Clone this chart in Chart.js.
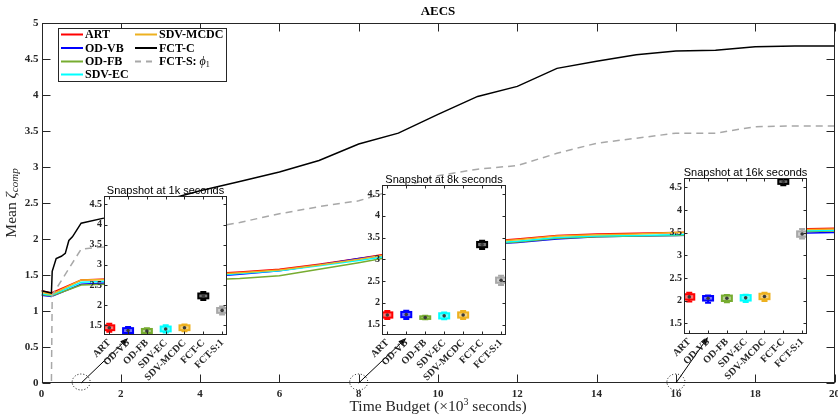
<!DOCTYPE html>
<html><head><meta charset="utf-8">
<script src="https://cdn.jsdelivr.net/npm/chart.js@4.4.1/dist/chart.umd.min.js"></script>
<style>
html,body{margin:0;padding:0;background:#fff;}
#wrap{position:relative;width:838px;height:418px;overflow:hidden;background:#fff;}
canvas{position:absolute;}
</style></head><body>
<div id="wrap">
<canvas id="main" width="838" height="418" style="left:0;top:0"></canvas>
<canvas id="ins0"></canvas><canvas id="ins1"></canvas><canvas id="ins2"></canvas>
</div>
<script>
// ---------------- DATA ----------------
const methods = ['ART', 'OD-VB', 'OD-FB', 'SDV-EC', 'SDV-MCDC', 'FCT-C', 'FCT-S'];
const boxLabels = ['ART', 'OD-VB', 'OD-FB', 'SDV-EC', 'SDV-MCDC', 'FCT-C', 'FCT-S:1'];

// time budget (x10^3 s) for the five baseline series
const times = [0, 0.25, 1, 2, 3, 4, 5, 6, 7, 8, 9, 10, 11, 12, 13, 14, 15, 16, 17, 18, 19, 20];
const art     = [1.28, 1.25, 1.43, 1.45, 1.48, 1.51, 1.54, 1.58, 1.65, 1.73, 1.82, 1.90, 1.96, 2.00, 2.05, 2.07, 2.08, 2.09, 2.10, 2.12, 2.14, 2.15];
const odVb    = [1.22, 1.20, 1.37, 1.40, 1.43, 1.47, 1.51, 1.56, 1.64, 1.73, 1.80, 1.87, 1.92, 1.95, 2.00, 2.03, 2.04, 2.05, 2.06, 2.07, 2.08, 2.09];
const odFb    = [1.23, 1.21, 1.36, 1.38, 1.40, 1.43, 1.45, 1.49, 1.58, 1.67, 1.77, 1.86, 1.92, 1.96, 2.01, 2.03, 2.04, 2.05, 2.07, 2.08, 2.10, 2.11];
const sdvEc   = [1.24, 1.22, 1.40, 1.42, 1.45, 1.48, 1.52, 1.56, 1.63, 1.70, 1.78, 1.87, 1.93, 1.97, 2.02, 2.04, 2.05, 2.06, 2.08, 2.09, 2.11, 2.12];
const sdvMcdc = [1.26, 1.23, 1.43, 1.44, 1.47, 1.50, 1.53, 1.57, 1.64, 1.72, 1.81, 1.89, 1.95, 1.99, 2.04, 2.06, 2.07, 2.09, 2.10, 2.11, 2.13, 2.14];

const fctCTimes = [0, 0.25, 0.27, 0.37, 0.5, 0.6, 0.69, 0.78, 1, 1.57, 2, 3, 4, 5, 6, 7, 8, 9, 10, 11, 12, 13, 14, 15, 16, 17, 18, 19, 20];
const fctC      = [1.28, 1.25, 1.55, 1.73, 1.76, 1.80, 1.98, 2.03, 2.22, 2.29, 2.36, 2.52, 2.67, 2.80, 2.93, 3.09, 3.32, 3.47, 3.73, 3.98, 4.12, 4.37, 4.47, 4.56, 4.61, 4.62, 4.67, 4.68, 4.68];

const fctSTimes = [0, 0.25, 0.27, 1, 1.57, 2, 3, 4, 5, 6, 7, 8, 9, 10, 11, 12, 13, 14, 15, 16, 17, 18, 19, 20];
const fctS      = [0, 0, 1.22, 1.86, 1.89, 1.95, 2.05, 2.13, 2.23, 2.35, 2.45, 2.53, 2.70, 2.88, 2.97, 3.02, 3.19, 3.33, 3.40, 3.47, 3.47, 3.56, 3.57, 3.57];

const xTickValues = [0, 2, 4, 6, 8, 10, 12, 14, 16, 18, 20];
const yTickValues = [0, 0.5, 1, 1.5, 2, 2.5, 3, 3.5, 4, 4.5, 5];
const insetYTicks = [1.5, 2, 2.5, 3, 3.5, 4, 4.5];

// snapshots (box plots)
const snapshotTimes = [1, 8, 16];
const snapshotTitles = ['Snapshot at 1k seconds', 'Snapshot at 8k seconds', 'Snapshot at 16k seconds'];
const med1k = [1.44, 1.37, 1.36, 1.41, 1.44, 2.23, 1.87];
const q1_1k = [1.38, 1.31, 1.31, 1.35, 1.38, 2.17, 1.81];
const q3_1k = [1.50, 1.43, 1.41, 1.47, 1.50, 2.29, 1.93];
const lo_1k = [1.34, 1.28, 1.29, 1.32, 1.35, 2.13, 1.77];
const hi_1k = [1.54, 1.46, 1.43, 1.50, 1.52, 2.33, 1.97];

const med8k = [1.72, 1.73, 1.66, 1.70, 1.72, 3.34, 2.52];
const q1_8k = [1.66, 1.67, 1.63, 1.64, 1.66, 3.28, 2.46];
const q3_8k = [1.78, 1.79, 1.69, 1.76, 1.78, 3.40, 2.58];
const lo_8k = [1.63, 1.63, 1.62, 1.62, 1.63, 3.24, 2.41];
const hi_8k = [1.81, 1.82, 1.70, 1.78, 1.81, 3.43, 2.62];

const med16k = [2.08, 2.05, 2.05, 2.06, 2.09, 4.63, 3.47];
const q1_16k = [2.02, 2.00, 1.99, 2.00, 2.03, 4.58, 3.41];
const q3_16k = [2.14, 2.10, 2.11, 2.12, 2.15, 4.68, 3.53];
const lo_16k = [1.98, 1.95, 1.96, 1.97, 1.99, 4.55, 3.37];
const hi_16k = [2.17, 2.11, 2.12, 2.13, 2.17, 4.70, 3.58];

// ---------------- STYLE / LAYOUT ----------------
const colors = ['#FF0000', '#0000FF', '#77AC30', '#00FFFF', '#EDB120', '#000000', '#A8A8A8'];
const AX = '#262626';
const SERIF = '"Liberation Serif", "DejaVu Serif", serif';
const SANS = '"Liberation Sans", Arial, sans-serif';
const insetBoxes = [
  {L: 104, R: 227, T: 196, B: 335},
  {L: 382, R: 506, T: 185, B: 335},
  {L: 684, R: 807, T: 178, B: 334}
];
const insetX = {min: 0.72, max: 7.26};
const insetY = {min: 1.26, max: 4.71};

// ---------------- MAIN CHART ----------------
const baseSeries = [art, odVb, odFb, sdvEc, sdvMcdc];
const datasets = baseSeries.map((vals, i) => ({
  label: methods[i],
  data: vals.map((y, k) => ({x: times[k], y})),
  borderColor: colors[i], borderWidth: 1.5, pointRadius: 0, tension: 0, fill: false, order: 10 - i
}));
datasets.push({label: methods[5], data: fctC.map((y, k) => ({x: fctCTimes[k], y})),
  borderColor: colors[5], borderWidth: 1.5, pointRadius: 0, tension: 0, fill: false, order: 4});
datasets.push({label: methods[6], data: fctS.map((y, k) => ({x: fctSTimes[k], y})),
  borderColor: colors[6], borderDash: [7, 5], borderWidth: 1.5, pointRadius: 0, tension: 0, fill: false, order: 3});

function zeroPad(s) { s.paddingLeft = 0; s.paddingRight = 0; s.paddingTop = 0; s.paddingBottom = 0; }

function drawParts(ctx, parts, x, y, align) {
  let w = 0;
  parts.forEach(p => { ctx.font = p.font; w += ctx.measureText(p.t).width; });
  let cx = align === 'center' ? x - w / 2 : x;
  parts.forEach(p => { ctx.font = p.font; ctx.fillText(p.t, cx, y + (p.dy || 0)); cx += ctx.measureText(p.t).width; });
}

const mainDecor = {
  id: 'mainDecor',
  afterDatasetsDraw(chart) {
    const ctx = chart.ctx, a = chart.chartArea, xs = chart.scales.x, ys = chart.scales.y;
    ctx.save();
    const L = Math.round(a.left) + 0.5, R = Math.round(a.right) - 0.5, T = Math.round(a.top) + 0.5, B = Math.round(a.bottom) - 0.5;
    ctx.strokeStyle = AX; ctx.lineWidth = 1;
    ctx.beginPath();
    xTickValues.forEach(v => { const p = Math.round(xs.getPixelForValue(v)) + 0.5; ctx.moveTo(p, B); ctx.lineTo(p, B - 8); ctx.moveTo(p, T); ctx.lineTo(p, T + 8); });
    yTickValues.forEach(v => { const p = Math.round(ys.getPixelForValue(v)) + 0.5; ctx.moveTo(L, p); ctx.lineTo(L + 8, p); ctx.moveTo(R, p); ctx.lineTo(R - 8, p); });
    ctx.stroke();
    ctx.strokeRect(L, T, R - L, B - T);

    // dotted circles and arrows to the insets
    snapshotTimes.forEach((t, i) => {
      const cx = xs.getPixelForValue(t), cy = ys.getPixelForValue(0);
      ctx.save();
      ctx.setLineDash([1, 2]); ctx.strokeStyle = '#000'; ctx.lineWidth = 1;
      ctx.beginPath(); ctx.ellipse(cx, cy - 1, 9, 8, 0, 0, Math.PI * 2); ctx.stroke();
      ctx.restore();
      const b = insetBoxes[i];
      const tx = b.L + (2 - insetX.min) / (insetX.max - insetX.min) * (b.R - b.L), ty = b.B + 3;
      const ang = Math.atan2(ty - cy, tx - cx);
      ctx.strokeStyle = '#000'; ctx.lineWidth = 1;
      ctx.beginPath(); ctx.moveTo(cx, cy); ctx.lineTo(tx - 6 * Math.cos(ang), ty - 6 * Math.sin(ang)); ctx.stroke();
      ctx.fillStyle = '#000';
      ctx.beginPath();
      ctx.moveTo(tx, ty);
      ctx.lineTo(tx - 8 * Math.cos(ang) + 3 * Math.sin(ang), ty - 8 * Math.sin(ang) - 3 * Math.cos(ang));
      ctx.lineTo(tx - 8 * Math.cos(ang) - 3 * Math.sin(ang), ty - 8 * Math.sin(ang) + 3 * Math.cos(ang));
      ctx.closePath(); ctx.fill();
    });

    // title
    ctx.fillStyle = '#000'; ctx.textBaseline = 'middle';
    ctx.font = 'bold 13px ' + SERIF;
    ctx.textAlign = 'center'; ctx.fillText('AECS', (a.left + a.right) / 2, 12);
    ctx.textAlign = 'left';
    // x label
    ctx.fillStyle = AX;
    drawParts(ctx, [
      {t: 'Time Budget (×10', font: '15.5px ' + SERIF},
      {t: '3', font: '10px ' + SERIF, dy: -4.5},
      {t: ' seconds)', font: '15.5px ' + SERIF}
    ], (a.left + a.right) / 2, 407, 'center');
    // y label
    ctx.save();
    ctx.translate(12, (a.top + a.bottom) / 2);
    ctx.rotate(-Math.PI / 2);
    drawParts(ctx, [
      {t: 'Mean ', font: '15.5px ' + SERIF},
      {t: 'ζ', font: 'italic 15.5px ' + SERIF},
      {t: 'comp', font: 'italic 11px ' + SERIF, dy: 3.5}
    ], 0, 0, 'center');
    ctx.restore();

    // legend
    const lx = 58.5, ly = 28.5, lw = 168, lh = 53;
    ctx.fillStyle = '#fff'; ctx.fillRect(lx, ly, lw, lh);
    ctx.strokeStyle = AX; ctx.lineWidth = 1; ctx.strokeRect(lx, ly, lw, lh);
    const rows = [34.5, 48, 61.5, 74.5];
    methods.forEach((m, i) => {
      const col = i < 4 ? 0 : 1, row = i < 4 ? i : i - 4;
      const x0 = col === 0 ? 61 : 135, y = rows[row];
      ctx.save();
      ctx.strokeStyle = colors[i]; ctx.lineWidth = 2;
      if (i === 6) ctx.setLineDash([6, 5]);
      ctx.beginPath(); ctx.moveTo(x0, y); ctx.lineTo(x0 + 22, y); ctx.stroke();
      ctx.restore();
      ctx.fillStyle = '#000'; ctx.textBaseline = 'middle';
      if (i === 6) {
        drawParts(ctx, [
          {t: m + ': ', font: 'bold 12px ' + SERIF},
          {t: 'ϕ', font: 'italic 12px ' + SERIF},
          {t: '1', font: '8px ' + SERIF, dy: 3}
        ], x0 + 24, y + 0.5, 'left');
      } else {
        ctx.font = 'bold 12px ' + SERIF; ctx.fillText(m, x0 + 24, y + 0.5);
      }
    });
    ctx.restore();
  }
};

const tickFont = {family: SERIF, weight: 'bold', size: 11};
new Chart(document.getElementById('main'), {
  type: 'line',
  data: {datasets},
  options: {
    responsive: false, animation: false, events: [],
    layout: {padding: {top: 23, right: 3.5, left: 0, bottom: 0}},
    plugins: {legend: {display: false}, title: {display: false}, tooltip: {enabled: false}},
    scales: {
      x: {type: 'linear', min: 0, max: 20,
        afterBuildTicks: s => { s.ticks = xTickValues.map(v => ({value: v})); },
        ticks: {font: tickFont, color: AX, padding: 5, maxRotation: 0, callback: v => String(v)},
        grid: {display: false, drawTicks: false}, border: {display: false},
        afterFit: s => { s.height = 35; zeroPad(s); }},
      y: {type: 'linear', min: 0, max: 5,
        afterBuildTicks: s => { s.ticks = yTickValues.map(v => ({value: v})); },
        ticks: {font: tickFont, color: AX, padding: 3, callback: v => String(v)},
        grid: {display: false, drawTicks: false}, border: {display: false},
        afterFit: s => { s.width = 41.5; zeroPad(s); }}
    }
  },
  plugins: [mainDecor]
});

// ---------------- INSETS ----------------
const snapStats = [
  {med: med1k, q1: q1_1k, q3: q3_1k, lo: lo_1k, hi: hi_1k},
  {med: med8k, q1: q1_8k, q3: q3_8k, lo: lo_8k, hi: hi_8k},
  {med: med16k, q1: q1_16k, q3: q3_16k, lo: lo_16k, hi: hi_16k}
];

function hexA(hex, a) {
  const n = parseInt(hex.slice(1), 16);
  return `rgba(${(n >> 16) & 255},${(n >> 8) & 255},${n & 255},${a})`;
}

snapStats.forEach((st, idx) => {
  const b = insetBoxes[idx];
  const padL = 32, padR = 6, padT = 20, padB = 60;
  const cv = document.getElementById('ins' + idx);
  cv.width = (b.R - b.L) + padL + padR;
  cv.height = (b.B - b.T) + padT + padB;
  cv.style.left = (b.L - padL) + 'px';
  cv.style.top = (b.T - padT) + 'px';

  const boxPlugin = {
    id: 'boxes' + idx,
    beforeDraw(chart) {
      const a = chart.chartArea, ctx = chart.ctx;
      ctx.save(); ctx.fillStyle = '#fff'; ctx.fillRect(a.left, a.top, a.right - a.left, a.bottom - a.top); ctx.restore();
    },
    beforeDatasetsDraw(chart) {
      const ctx = chart.ctx, xs = chart.scales.x, ys = chart.scales.y, a = chart.chartArea;
      ctx.save();
      ctx.beginPath(); ctx.rect(a.left, a.top, a.right - a.left, a.bottom - a.top); ctx.clip();
      st.med.forEach((m, i) => {
        const x = xs.getPixelForValue(i + 1);
        const y1 = ys.getPixelForValue(st.q1[i]), y3 = ys.getPixelForValue(st.q3[i]);
        const yl = ys.getPixelForValue(st.lo[i]), yh = ys.getPixelForValue(st.hi[i]);
        const c = colors[i];
        ctx.strokeStyle = c; ctx.lineWidth = 2;
        ctx.beginPath();
        ctx.moveTo(x, yl); ctx.lineTo(x, y1); ctx.moveTo(x, y3); ctx.lineTo(x, yh);
        ctx.moveTo(x - 3, yl); ctx.lineTo(x + 3, yl); ctx.moveTo(x - 3, yh); ctx.lineTo(x + 3, yh);
        ctx.stroke();
        ctx.fillStyle = hexA(c, 0.55);
        ctx.fillRect(x - 5, y3, 10, y1 - y3);
        ctx.lineWidth = 2;
        ctx.strokeRect(x - 5, y3, 10, y1 - y3);
      });
      ctx.restore();
    },
    afterDraw(chart) {
      const ctx = chart.ctx, a = chart.chartArea, xs = chart.scales.x, ys = chart.scales.y;
      ctx.save();
      const L = Math.round(a.left) + 0.5, R = Math.round(a.right) - 0.5, T = Math.round(a.top) + 0.5, B = Math.round(a.bottom) - 0.5;
      ctx.strokeStyle = AX; ctx.lineWidth = 1;
      ctx.beginPath();
      st.med.forEach((m, i) => { const p = Math.round(xs.getPixelForValue(i + 1)) + 0.5; ctx.moveTo(p, B); ctx.lineTo(p, B - 3); ctx.moveTo(p, T); ctx.lineTo(p, T + 3); });
      insetYTicks.forEach(v => { const p = Math.round(ys.getPixelForValue(v)) + 0.5; ctx.moveTo(L, p); ctx.lineTo(L + 3, p); ctx.moveTo(R, p); ctx.lineTo(R - 3, p); });
      ctx.stroke();
      ctx.strokeRect(L, T, R - L, B - T);
      ctx.fillStyle = '#000'; ctx.font = '11px ' + SANS; ctx.textAlign = 'center'; ctx.textBaseline = 'middle';
      ctx.fillText(snapshotTitles[idx], (a.left + a.right) / 2, a.top - 5.5);
      ctx.restore();
    }
  };

  const insetFont = {family: SERIF, weight: 'bold', size: 10};
  new Chart(cv, {
    type: 'scatter',
    data: {datasets: [{
      label: snapshotTitles[idx],
      data: st.med.map((m, i) => ({x: i + 1, y: m})),
      pointRadius: 1.8, pointBackgroundColor: '#3a3a3a', pointBorderWidth: 0
    }]},
    options: {
      responsive: false, animation: false, events: [],
      layout: {padding: {top: padT, right: padR, left: 0, bottom: 0}},
      plugins: {legend: {display: false}, title: {display: false}, tooltip: {enabled: false}},
      scales: {
        x: {type: 'linear', min: insetX.min, max: insetX.max,
          afterBuildTicks: s => { s.ticks = boxLabels.map((l, i) => ({value: i + 1})); },
          ticks: {font: insetFont, color: AX, padding: 2, minRotation: 45, maxRotation: 45, autoSkip: false,
            callback: v => boxLabels[Math.round(v) - 1]},
          grid: {display: false, drawTicks: false}, border: {display: false},
          afterFit: s => { s.height = padB; zeroPad(s); }},
        y: {type: 'linear', min: insetY.min, max: insetY.max,
          afterBuildTicks: s => { s.ticks = insetYTicks.map(v => ({value: v})); },
          ticks: {font: insetFont, color: AX, padding: 2, callback: v => String(v)},
          grid: {display: false, drawTicks: false}, border: {display: false},
          afterFit: s => { s.width = padL; zeroPad(s); }}
      }
    },
    plugins: [boxPlugin]
  });
});
</script>
</body></html>
